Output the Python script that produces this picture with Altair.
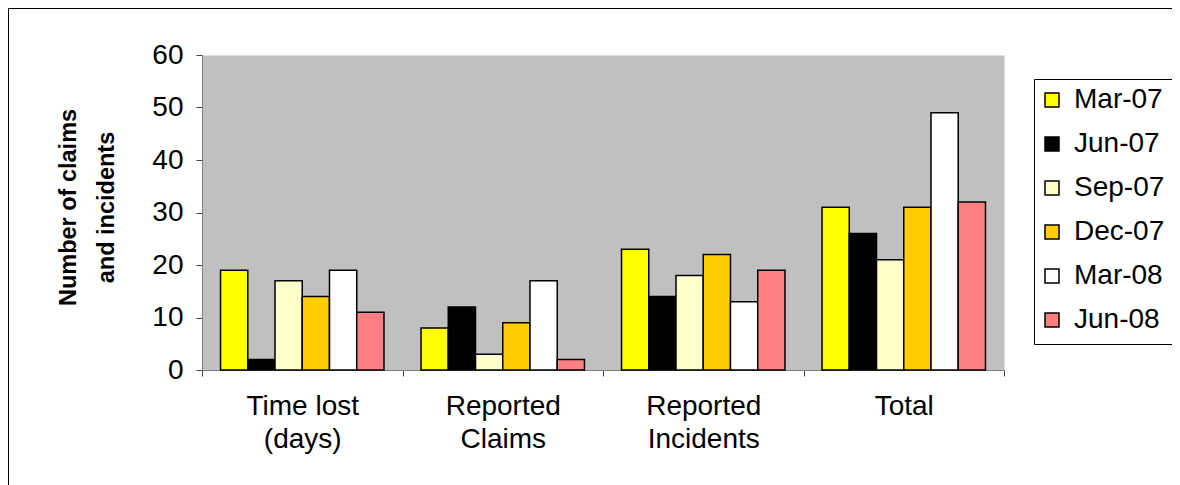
import json
import altair as alt
import pandas as pd

categories = ["Time lost (days)", "Reported Claims", "Reported Incidents", "Total"]
tick_labels = [["Time lost", "(days)"], ["Reported", "Claims"], ["Reported", "Incidents"], ["Total"]]
periods = ["Mar-07", "Jun-07", "Sep-07", "Dec-07", "Mar-08", "Jun-08"]
colors = ["#FFFF00", "#000000", "#FFFFCC", "#FFCC00", "#FFFFFF", "#FF8080"]

mar07 = [19, 8, 23, 31]
jun07 = [2, 12, 14, 26]
sep07 = [17, 3, 18, 21]
dec07 = [14, 9, 22, 31]
mar08 = [19, 17, 13, 49]
jun08 = [11, 2, 19, 32]
series = [mar07, jun07, sep07, dec07, mar08, jun08]

rows = []
for p, vals in zip(periods, series):
    for c, v in zip(categories, vals):
        rows.append({"category": c, "period": p, "value": v})
df = pd.DataFrame(rows)

label_expr = ""
for c, tl in zip(categories, tick_labels):
    label_expr += f"datum.value == {json.dumps(c)} ? {json.dumps(tl)} : "
label_expr += "datum.label"

FONT = "Liberation Sans"

bars = alt.Chart(df).mark_bar(stroke="black", strokeWidth=1.5).encode(
    x=alt.X("category:N", sort=categories,
            scale=alt.Scale(paddingInner=0, paddingOuter=0),
            axis=alt.Axis(title=None, labelAngle=0, labelExpr=label_expr,
                          labelFont=FONT, labelFontSize=28, labelColor="black",
                          labelLineHeight=33, labelBaseline="top", labelPadding=16,
                          tickBand="extent", tickSize=6, tickColor="#404040",
                          domainColor="#808080", grid=False)),
    xOffset=alt.XOffset("period:N", sort=periods,
                        scale=alt.Scale(paddingInner=0, paddingOuter=0.68)),
    y=alt.Y("value:Q", scale=alt.Scale(domain=[0, 60], nice=False),
            axis=alt.Axis(title=["Number of claims", "and incidents"],
                          values=[0, 10, 20, 30, 40, 50, 60],
                          labelFont=FONT, labelFontSize=28, labelColor="black",
                          labelPadding=13, tickSize=6, tickColor="#404040",
                          domainColor="#808080", grid=False,
                          titleFont=FONT, titleFontSize=23.5, titleFontWeight="bold",
                          titleColor="black", titleLineHeight=38,
                          titleAngle=270, titleBaseline="top", titleAlign="center",
                          titleX=-146, titleY=152)),
    color=alt.Color("period:N", sort=periods,
                    scale=alt.Scale(domain=periods, range=colors),
                    legend=alt.Legend(title=None, orient="none", legendX=836, legendY=31,
                                      symbolType="square", symbolSize=196,
                                      symbolStrokeColor="black", symbolStrokeWidth=1.5,
                                      symbolOpacity=1,
                                      labelFont=FONT, labelFontSize=28, labelColor="black",
                                      labelOffset=8, rowPadding=16, padding=0)),
)

deco = pd.DataFrame({"k": [0]})
line = dict(color="black", strokeWidth=1)
RIGHT = 990  # beyond the right edge of the drawing, relative to the plot origin
# outer chart border (top and left; right/bottom fall outside the page)
outer_top = alt.Chart(deco).mark_rule(**line).encode(
    x=alt.value(-193.5), x2=alt.value(RIGHT), y=alt.value(-46.5))
outer_left = alt.Chart(deco).mark_rule(**line).encode(
    x=alt.value(-193.5), y=alt.value(-46.5), y2=alt.value(500))
# legend box (right edge falls outside the page)
leg_top = alt.Chart(deco).mark_rule(**line).encode(
    x=alt.value(832.5), x2=alt.value(RIGHT), y=alt.value(24.5))
leg_bottom = alt.Chart(deco).mark_rule(**line).encode(
    x=alt.value(832.5), x2=alt.value(RIGHT), y=alt.value(289.5))
leg_left = alt.Chart(deco).mark_rule(**line).encode(
    x=alt.value(832.5), y=alt.value(24.5), y2=alt.value(289.5))

chart = alt.layer(outer_top, outer_left, leg_top, leg_bottom, leg_left, bars).properties(
    width=802, height=315,
    background="white",
    autosize=alt.AutoSizeParams(type="none"),
    padding={"left": 194, "top": 47, "right": 168, "bottom": 115},
).configure_view(fill="#C0C0C0", stroke="transparent")

chart.save("out.html", embed_options={"renderer": "svg", "actions": False})
